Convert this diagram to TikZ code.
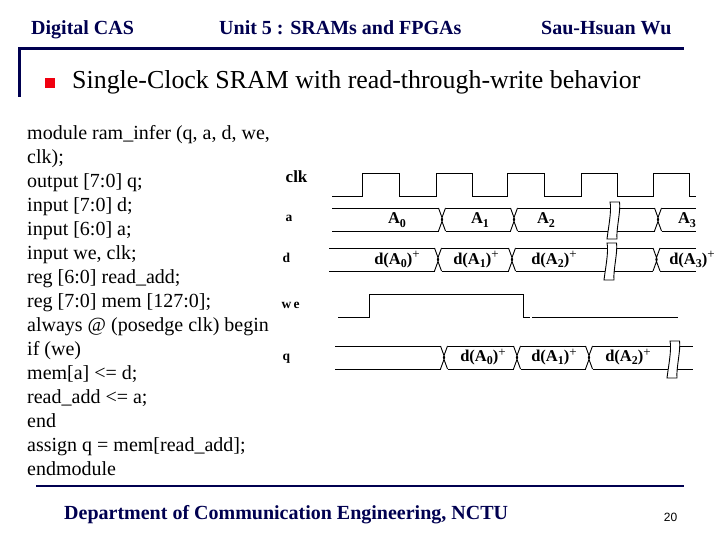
\documentclass[tikz,border=0pt]{standalone}
\usepackage{fontspec}
\setmainfont{Liberation Serif}
\newfontfamily\pagefont{Liberation Sans}
\definecolor{slidenavy}{HTML}{000050}
\definecolor{bulletred}{HTML}{F00010}
\newcommand{\lowdigit}[1]{\raisebox{-3pt}{\fontsize{12}{12}\selectfont #1}}
\newcommand{\highplus}{\raisebox{5.5pt}{\fontsize{13}{13}\selectfont\mdseries +}}
\tikzstyle{wave}=[draw, line width=0.9pt, line join=miter]
\tikzstyle{head}=[inner sep=0pt, anchor=base west, text=slidenavy, font=\fontsize{20}{20}\selectfont\bfseries]
\tikzstyle{code}=[inner sep=0pt, anchor=base west, font=\fontsize{20}{20}\selectfont]
\tikzstyle{signal}=[inner sep=0pt, anchor=base west, font=\fontsize{13.5}{13.5}\selectfont\bfseries]
\tikzstyle{value}=[inner sep=0pt, anchor=base, font=\fontsize{16.5}{16.5}\selectfont\bfseries]
\begin{document}
\begin{tikzpicture}[x=1pt,y=-1pt]
\useasboundingbox (0,0) rectangle (720,540);
% header
\node[head] (course) at (31,34.5) {Digital CAS};
\node[head] (unit) at (219,34.5) {Unit 5 : SRAMs and FPGAs};
\node[head] (teacher) at (541,34.5) {Sau-Hsuan Wu};
\draw[slidenavy, line width=2.6pt] (19.5,97) -- (19.5,48.5) -- (684,48.5);
\draw[slidenavy, line width=2.6pt] (36,486) -- (684,486);
\fill[bulletred] (45,78) rectangle (55,88);
\node[inner sep=0pt, anchor=base west, font=\fontsize{25.9}{25.9}\selectfont] (title) at (72,89) {Single-Clock SRAM with read-through-write behavior};
% verilog code
\foreach \n/\txt in {0/{module ram\_infer (q, a, d, we,},1/clk);,2/{output [7:0] q;},3/{input [7:0] d;},4/{input [6:0] a;},5/{input we, clk;},6/{reg [6:0] read\_add;},7/{reg [7:0] mem [127:0];},8/{always @ (posedge clk) begin},9/if (we),10/{mem[a] <= d;},11/{read\_add <= a;},12/end,13/{assign q = mem[read\_add];},14/endmodule}
\node[code] (code\n) at (27,139.7+24*\n) {\txt};
% signal names
\node[signal, font=\fontsize{17}{17}\selectfont\bfseries] (clk) at (285.5,183) {clk};
\node[signal] (a) at (285.5,222) {a};
\node[signal] (d) at (282.5,262) {d};
\node[signal] (we) at (281.5,308) {w\,e};
\node[signal] (q) at (282.5,360) {q};
% clk and we
\draw[wave] (332,196) -- (362,196) -- (362,173) -- (399,173) -- (399,196) -- (436,196) -- (436,173) -- (472,173) -- (472,196) -- (507,196) -- (507,173) -- (544,173) -- (544,196) -- (581,196) -- (581,173) -- (617,173) -- (617,196) -- (653,196) -- (653,173) -- (689,173) -- (689,196) -- (696,196);
\draw[wave] (338,317) -- (369,317) -- (369,294) -- (523,294) -- (523,317) -- (530,317);
\draw[wave] (532,317) -- (678,317);
% buses: a, d, q
\foreach \ytop/\xa/\xb in {208/328.5/442,208/442/514,208/514/658,208/658/699.5,248/325.5/438,248/438/512,248/512/656.5,248/656.5/699,346/331.5/444,346/444/517,346/517/589,346/589/696.5}
\draw[wave] (\xa+3.5,\ytop) -- (\xb-3.5,\ytop) (\xa+3.5,\ytop+23) -- (\xb-3.5,\ytop+23);
\foreach \ytop/\xc in {208/442,208/514,208/658,248/438,248/512,248/656.5,346/444,346/517,346/589}
\draw[wave] (\xc-3.5,\ytop) -- (\xc+0.7,\ytop+11.5) -- (\xc-3.5,\ytop+23) (\xc+3.5,\ytop) -- (\xc-0.7,\ytop+11.5) -- (\xc+3.5,\ytop+23);
% breaks
\foreach \x/\y in {610/202,607/243,670/341}
\draw[wave, fill=white] (\x,\y) .. controls (\x+2,\y+8) and (\x-2,\y+28) .. (\x-3,\y+37) -- (\x+7,\y+37) .. controls (\x+6,\y+28) and (\x+11,\y+8) .. (\x+9.5,\y) -- cycle;
% values
\node[value] (a0) at (397,224) {A\lowdigit{0}};
\node[value] (a1) at (480,224) {A\lowdigit{1}};
\node[value] (a2) at (546,224) {A\lowdigit{2}};
\node[value] (a3) at (687,224) {A\lowdigit{3}};
\node[value] (d0) at (397,264) {d(A\lowdigit{0})\highplus};
\node[value] (d1) at (476,264) {d(A\lowdigit{1})\highplus};
\node[value] (d2) at (554,264) {d(A\lowdigit{2})\highplus};
\node[value] (d3) at (692,264) {d(A\lowdigit{3})\highplus};
\node[value] (q0) at (483,361.5) {d(A\lowdigit{0})\highplus};
\node[value] (q1) at (554,361.5) {d(A\lowdigit{1})\highplus};
\node[value] (q2) at (628,361.5) {d(A\lowdigit{2})\highplus};
% footer
\node[head] (dept) at (64,519) {Department of Communication Engineering, NCTU};
\node[inner sep=0pt, anchor=base, font=\pagefont\fontsize{12}{12}\selectfont] (page) at (670.5,521) {20};
\end{tikzpicture}
\end{document}
